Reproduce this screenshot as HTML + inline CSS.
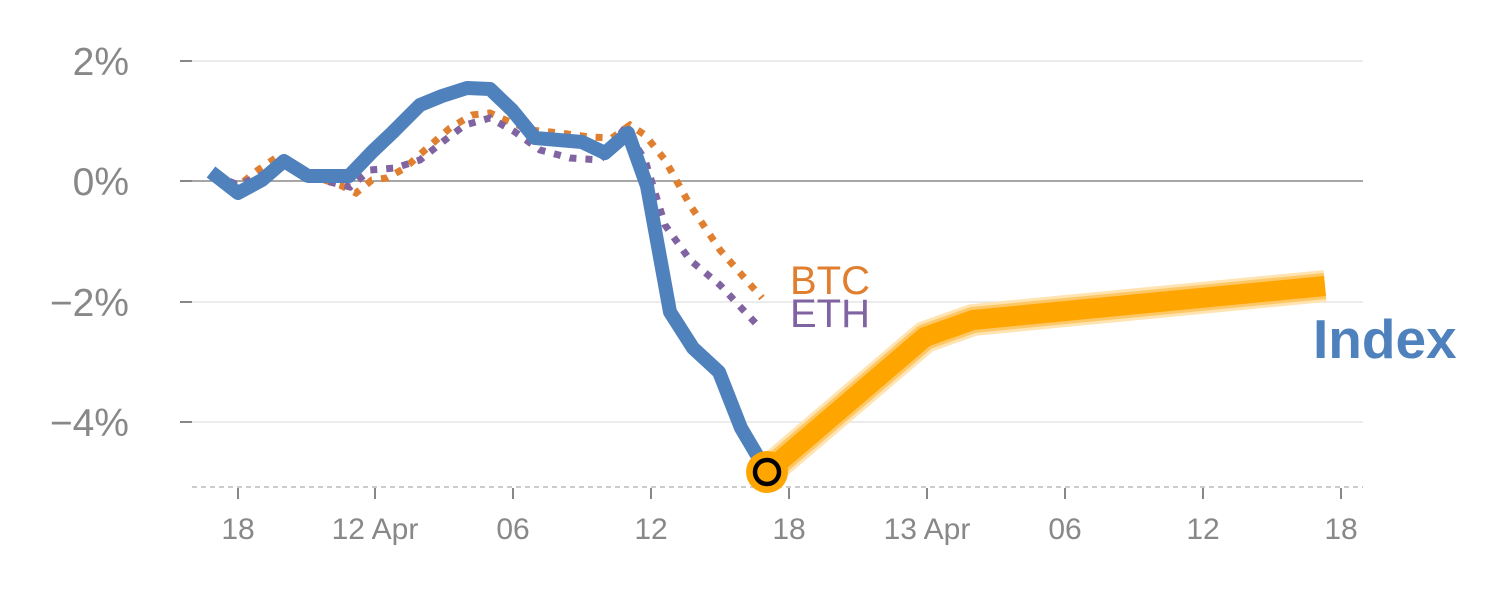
<!DOCTYPE html>
<html><head><style>body{margin:0;background:#fff}svg{display:block}</style></head><body>
<svg width="1500" height="600" xmlns="http://www.w3.org/2000/svg" font-family="Liberation Sans, sans-serif">
<g stroke="#e6e6e6" stroke-width="1.5">
<line x1="192" y1="61" x2="1363" y2="61"/><line x1="192" y1="302" x2="1363" y2="302"/><line x1="192" y1="422" x2="1363" y2="422"/>
</g>
<line x1="192" y1="181" x2="1363" y2="181" stroke="#888" stroke-width="1.5"/>
<line x1="192" y1="487" x2="1363" y2="487" stroke="#ccc" stroke-width="2" stroke-dasharray="5 4"/>
<g stroke="#888" stroke-width="2">
<line x1="180" y1="61" x2="192" y2="61"/><line x1="180" y1="181" x2="192" y2="181"/><line x1="180" y1="302" x2="192" y2="302"/><line x1="180" y1="422" x2="192" y2="422"/>
<line x1="238" y1="488" x2="238" y2="499"/><line x1="375" y1="488" x2="375" y2="499"/><line x1="513" y1="488" x2="513" y2="499"/><line x1="651" y1="488" x2="651" y2="499"/><line x1="789" y1="488" x2="789" y2="499"/><line x1="927" y1="488" x2="927" y2="499"/><line x1="1065" y1="488" x2="1065" y2="499"/><line x1="1203" y1="488" x2="1203" y2="499"/><line x1="1341" y1="488" x2="1341" y2="499"/>
</g>
<g fill="#888" font-size="39" text-anchor="end">
<text x="129" y="75">2%</text><text x="129" y="195">0%</text><text x="129" y="316">−2%</text><text x="129" y="436">−4%</text>
</g>
<g fill="#888" font-size="30" text-anchor="middle">
<text x="238" y="539">18</text><text x="375" y="539">12 Apr</text><text x="513" y="539">06</text><text x="651" y="539">12</text><text x="789" y="539">18</text><text x="927" y="539">13 Apr</text><text x="1065" y="539">06</text><text x="1203" y="539">12</text><text x="1341" y="539">18</text>
</g>
<polyline fill="none" stroke="#e07f30" stroke-width="7" stroke-dasharray="7 9" points="215,177 238,186 258,170 280,155 300,167 318,178 340,185 356,193 372,180 387,178 405,168 425,150 450,128 472,115 490,113 510,122 530,130 560,133 590,137 612,138 630,125 645,135 665,160 690,205 720,250 762,298"/>
<polyline fill="none" stroke="#8064a2" stroke-width="7" stroke-dasharray="7 9" points="215,175 238,185 262,175 285,160 310,175 330,182 350,187 370,170 395,168 420,160 445,140 465,125 490,118 515,132 540,150 570,158 600,160 625,128 645,160 665,225 690,260 720,285 760,328"/>
<polyline fill="none" stroke="#4f81bd" stroke-width="14" stroke-linejoin="round" points="211,172 238,193 262,180 284,161 308,176 349,176 372,152 393,132 420,105 442,96 467,88 490,89 512,110 535,138 582,142 605,153 628,133 647,186 670,312 693,348 719,372 741,428 767,472"/>
<polyline fill="none" stroke="#ffe3b0" stroke-width="32" stroke-linejoin="round" points="767,472 925,337 973,320 1325,286"/>
<polyline fill="none" stroke="#fdc766" stroke-width="26" stroke-linejoin="round" points="767,472 925,337 973,320 1325,286"/>
<polyline fill="none" stroke="#ffa500" stroke-width="20" stroke-linejoin="round" points="767,472 925,337 973,320 1325,286"/>
<circle cx="767" cy="472" r="21" fill="#ffa500"/>
<circle cx="767" cy="472" r="12" fill="#ffa500" stroke="#000" stroke-width="4.5"/>
<text x="790" y="294" font-size="40" fill="#e07f30">BTC</text>
<text x="790" y="327" font-size="40" fill="#8064a2">ETH</text>
<text x="1313" y="358" font-size="55" font-weight="bold" fill="#4f81bd">Index</text>
</svg>
</body></html>
